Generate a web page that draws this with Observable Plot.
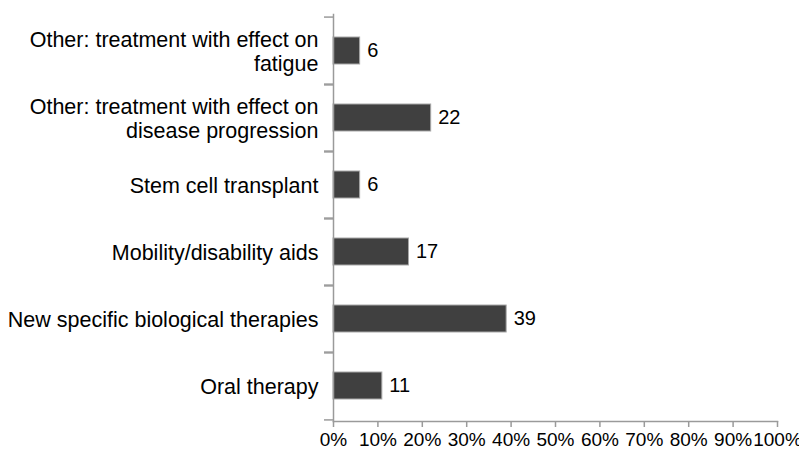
<!DOCTYPE html>
<html>
<head>
<meta charset="utf-8">
<script src="https://cdn.jsdelivr.net/npm/d3@7"></script>
<script src="https://cdn.jsdelivr.net/npm/@observablehq/plot@0.6"></script>
<style>
  html, body { margin: 0; padding: 0; background: #fff; }
</style>
</head>
<body>
<div id="chart"></div>
<script>
const categories = [
  "Other: treatment with effect on\nfatigue",
  "Other: treatment with effect on\ndisease progression",
  "Stem cell transplant",
  "Mobility/disability aids",
  "New specific biological therapies",
  "Oral therapy"
];
const values = [6, 22, 6, 17, 39, 11];
const xTicks = [0, 10, 20, 30, 40, 50, 60, 70, 80, 90, 100];

const data = categories.map((c, i) => ({category: c, value: values[i]}));

const W = 799, H = 452;
const mTop = 14, mBottom = 31, mLeft = 333, mRight = 22;
const halfStep = (H - mTop - mBottom) / categories.length / 2;
const axisColor = "#9a9a9a";

const chart = Plot.plot({
  width: W,
  height: H,
  marginTop: mTop,
  marginBottom: mBottom,
  marginLeft: mLeft,
  marginRight: mRight,
  style: {fontFamily: "'Liberation Sans', Arial, sans-serif", color: "#000", background: "#fff"},
  x: {domain: [0, 100]},
  y: {domain: categories, paddingInner: 0.6, paddingOuter: 0.3},
  marks: [
    Plot.barX(data, {x: "value", y: "category", fill: "#404040", stroke: "#a8a8a8", strokeWidth: 1}),
    Plot.frame({anchor: "left", stroke: axisColor, strokeWidth: 1.5}),
    Plot.frame({anchor: "bottom", stroke: axisColor, strokeWidth: 1.5}),
    Plot.axisY({tickSize: 9, tickFormat: null, dy: -halfStep, stroke: axisColor, strokeWidth: 1.5, label: null}),
    Plot.axisY({tickSize: 9, tickFormat: null, dy: halfStep, stroke: axisColor, strokeWidth: 1.5, label: null}),
    Plot.axisX({ticks: xTicks, tickSize: 6, tickPadding: 5, tickFormat: d => d + "%", fontSize: 19, stroke: axisColor, strokeWidth: 1.5, label: null, fill: "#000"}),
    Plot.text(data, {y: "category", text: "category", frameAnchor: "left", textAnchor: "end", dx: -15, fontSize: 21.5, lineHeight: 1.12, fill: "#000"}),
    Plot.text(data, {x: "value", y: "category", text: d => String(d.value), textAnchor: "start", dx: 7, fontSize: 20, fill: "#000"})
  ]
});
document.getElementById("chart").appendChild(chart);
</script>
</body>
</html>
